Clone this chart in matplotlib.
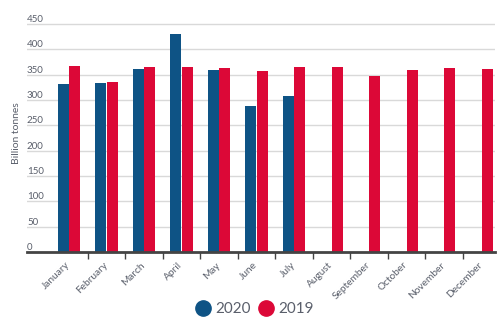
import matplotlib
matplotlib.use("Agg")
import matplotlib.pyplot as plt
from matplotlib.lines import Line2D
import numpy as np

months = ["January", "February", "March", "April", "May", "June", "July",
          "August", "September", "October", "November", "December"]
y2020 = [331, 333, 361, 430, 359, 288, 308]
y2019 = [367, 336, 365, 365, 363, 357, 365, 365, 347, 359, 363, 361]
yticks = [0, 50, 100, 150, 200, 250, 300, 350, 400, 450]

blue = "#0e5385"
red = "#dc0837"
grey = "#5a5f6b"

plt.rcParams['font.family'] = ['Lato', 'DejaVu Sans']

fig = plt.figure(figsize=(4.97, 3.18), dpi=100)
ax = fig.add_axes([0.0543, 0.2075, 0.9417, 0.749])

x = np.arange(len(months))
w = 0.29
ax.bar(x[:len(y2020)] - 0.155, y2020, width=w, color=blue, zorder=3)
ax.bar(x + 0.155, y2019, width=w, color=red, zorder=3)

ax.set_xlim(-1.12, 11.36)
ax.set_ylim(0, 470)

# gridlines + labels sitting above them
for t in yticks:
    if t > 0:
        ax.axhline(t, color="#d9d9d9", lw=1, zorder=1)
    ax.text(0.0, t, str(t), transform=ax.get_yaxis_transform(),
            ha="left", va="bottom", fontsize=7, color=grey)
ax.set_yticks([])

ax.set_ylabel("Billion tonnes", fontsize=7.5, color=grey, labelpad=4)

# ticks at category boundaries, labels at centres
ax.set_xticks(x[:-1] + 0.5)
ax.set_xticklabels([])
ax.tick_params(axis="x", length=5, width=1, color="#444444")
for i, m in enumerate(months):
    ax.annotate(m, xy=(x[i], 0), xycoords=("data", "axes fraction"),
                xytext=(2, -6), textcoords="offset points",
                rotation=45, ha="right", va="top", fontsize=7.3, color=grey)

for s in ["top", "right", "left"]:
    ax.spines[s].set_visible(False)
ax.spines["bottom"].set_color("#444444")
ax.spines["bottom"].set_linewidth(2)
ax.spines["bottom"].set_zorder(4)

handles = [Line2D([], [], marker="o", ls="", color=blue, markersize=11),
           Line2D([], [], marker="o", ls="", color=red, markersize=11)]
fig.legend(handles, ["2020", "2019"], loc="center", bbox_to_anchor=(0.51, 0.028),
           ncol=2, frameon=False, fontsize=11, labelcolor=grey,
           handletextpad=0.2, columnspacing=0.4, handlelength=1.2)

fig.savefig("out.png", dpi=100)
